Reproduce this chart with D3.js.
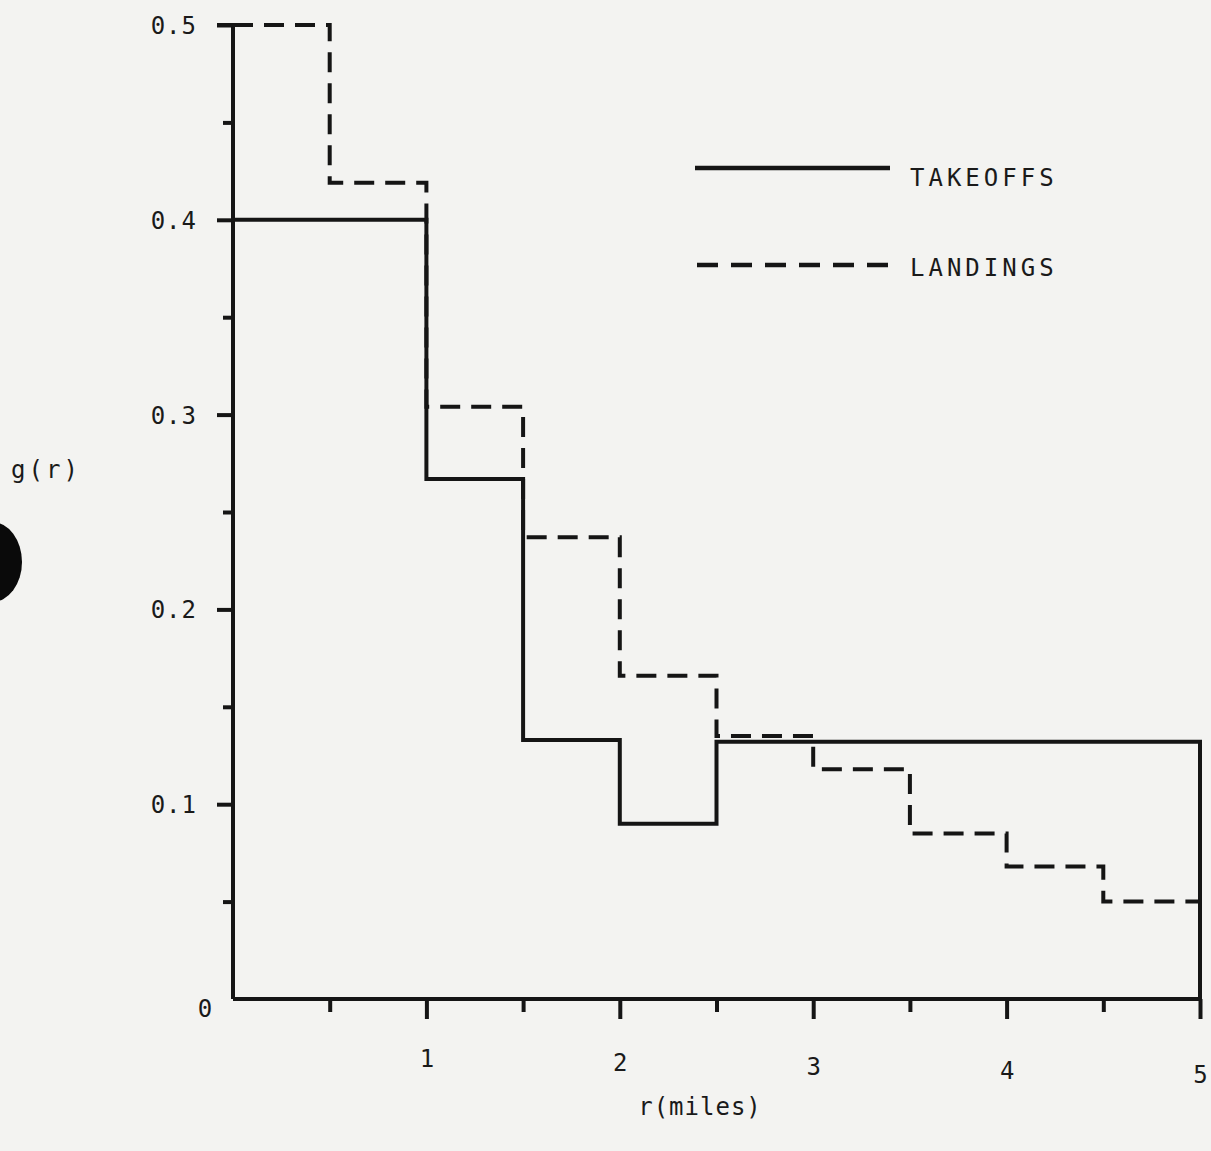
<!DOCTYPE html>
<html><head><meta charset="utf-8">
<script src="https://cdn.jsdelivr.net/npm/d3@7"></script>
<style>
html,body{margin:0;padding:0;background:#f3f3f1;}
svg{display:block;}
text{font-family:"DejaVu Sans Mono",monospace;fill:#1a1a1a;}
</style></head><body>
<svg id="c" width="1211" height="1151"></svg>
<script>
// ---- data ----
const takeoffEdges = [0, 1, 1.5, 2, 2.5, 5];
const takeoffValues = [0.40, 0.267, 0.133, 0.090, 0.132];
const landingEdges = [0, 0.5, 1, 1.5, 2, 2.5, 3, 3.5, 4, 4.5, 5];
const landingValues = [0.50, 0.419, 0.304, 0.237, 0.166, 0.135, 0.118, 0.085, 0.068, 0.050];
const xTickLabels = [1, 2, 3, 4, 5];
const xMinorTicks = [0.5, 1.5, 2.5, 3.5, 4.5];
const yTickLabels = [0, 0.1, 0.2, 0.3, 0.4, 0.5];
const yMinorTicks = [0.05, 0.15, 0.25, 0.35, 0.45];
const legendItems = ["TAKEOFFS", "LANDINGS"];

const svg = d3.select("#c");
const ink = "#151515";
const sw = 4;
const x = d3.scaleLinear().domain([0, 5]).range([233, 1200]);
const y = d3.scaleLinear().domain([0, 0.5]).range([999, 25]);

// scan artifact (punch hole)
svg.append("ellipse").attr("cx", -8).attr("cy", 562).attr("rx", 30).attr("ry", 40).attr("fill", "#0a0a0a");

// y axis
const yMajor = d3.axisLeft(y).tickValues(yTickLabels.filter(d => d > 0)).tickSize(16).tickSizeOuter(0)
  .tickFormat(d3.format(".1f"));
const gy = svg.append("g").attr("transform", `translate(${x(0)},0)`).call(yMajor);
gy.select(".domain").remove();
gy.selectAll("line").attr("stroke", ink).attr("stroke-width", sw);
gy.selectAll("text").attr("font-size", 24).attr("x", -36).attr("letter-spacing", 1).attr("dy", "0.35em");
const yMinor = d3.axisLeft(y).tickValues(yMinorTicks).tickSize(10).tickFormat("");
const gy2 = svg.append("g").attr("transform", `translate(${x(0)},0)`).call(yMinor);
gy2.select(".domain").remove();
gy2.selectAll("line").attr("stroke", ink).attr("stroke-width", sw);
svg.append("text").attr("x", 205).attr("y", y(0) + 10).attr("text-anchor", "middle")
  .attr("dy", "0.35em").attr("font-size", 24).text(yTickLabels[0]);

// x axis
const xMajor = d3.axisBottom(x).tickValues(xTickLabels).tickSize(20).tickSizeOuter(0).tickFormat(d3.format("d"));
const gx = svg.append("g").attr("transform", `translate(0,${y(0)})`).call(xMajor);
gx.select(".domain").remove();
gx.selectAll("line").attr("stroke", ink).attr("stroke-width", sw);
gx.selectAll("text").attr("font-size", 24).attr("y", 60).attr("dy", "0.35em");
gx.selectAll(".tick text").attr("transform", (d) => `translate(0,${(d - 1) * 4})`);
const xMinor = d3.axisBottom(x).tickValues(xMinorTicks).tickSize(13).tickFormat("");
const gx2 = svg.append("g").attr("transform", `translate(0,${y(0)})`).call(xMinor);
gx2.select(".domain").remove();
gx2.selectAll("line").attr("stroke", ink).attr("stroke-width", sw);

// axis lines
svg.append("line").attr("x1", x(0)).attr("x2", x(0)).attr("y1", y(0)).attr("y2", y(0.5))
  .attr("stroke", ink).attr("stroke-width", sw);
svg.append("line").attr("x1", x(0)).attr("x2", x(5)).attr("y1", y(0)).attr("y2", y(0))
  .attr("stroke", ink).attr("stroke-width", sw);
svg.append("line").attr("x1", x(0) - 16).attr("x2", x(0)).attr("y1", y(0.5)).attr("y2", y(0.5))
  .attr("stroke", ink).attr("stroke-width", sw);

// step lines
const line = d3.line().x(d => x(d[0])).y(d => y(d[1]));
function stepPts(edges, vals, closeToZero) {
  const pts = [];
  vals.forEach((v, i) => { pts.push([edges[i], v]); pts.push([edges[i + 1], v]); });
  if (closeToZero) pts.push([edges[edges.length - 1], 0]);
  return pts;
}
svg.append("path").attr("d", line(stepPts(takeoffEdges, takeoffValues, true)))
  .attr("fill", "none").attr("stroke", ink).attr("stroke-width", sw);
svg.append("path").attr("d", line(stepPts(landingEdges, landingValues, false)))
  .attr("fill", "none").attr("stroke", ink).attr("stroke-width", sw)
  .attr("stroke-dasharray", "20,11");

// legend
svg.append("line").attr("x1", 695).attr("x2", 890).attr("y1", 168).attr("y2", 168)
  .attr("stroke", ink).attr("stroke-width", 4.5);
svg.append("line").attr("x1", 697).attr("x2", 892).attr("y1", 265).attr("y2", 265)
  .attr("stroke", ink).attr("stroke-width", 4.5).attr("stroke-dasharray", "21,13");
svg.append("text").attr("x", 910).attr("y", 178).attr("dy", "0.35em").attr("font-size", 24)
  .attr("letter-spacing", 4).text(legendItems[0]);
svg.append("text").attr("x", 910).attr("y", 268).attr("dy", "0.35em").attr("font-size", 24)
  .attr("letter-spacing", 4).text(legendItems[1]);

// axis titles
svg.append("text").attr("x", 700).attr("y", 1107).attr("text-anchor", "middle").attr("dy", "0.35em")
  .attr("font-size", 24).attr("letter-spacing", 1).text("r(miles)");
svg.append("text").attr("x", 46).attr("y", 470).attr("text-anchor", "middle").attr("dy", "0.35em")
  .attr("font-size", 24).attr("letter-spacing", 3).text("g(r)");
</script>
</body></html>
